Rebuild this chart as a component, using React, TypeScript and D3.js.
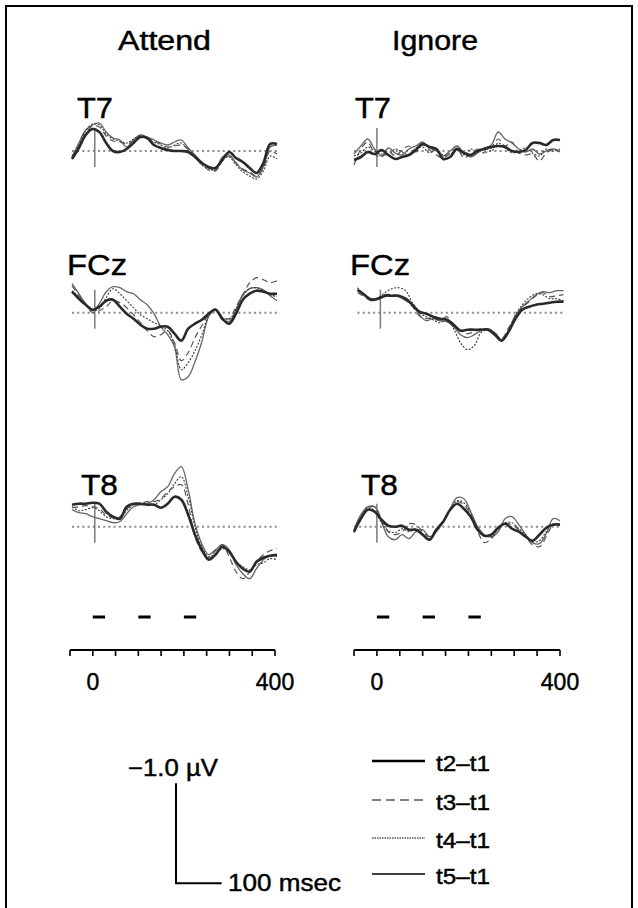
import React from "react";
import * as d3 from "d3";

// sample times (ms) shared by every trace
const times = [-50, -35, -20, -5, 10, 25, 40, 55, 70, 85, 100, 115, 130, 145, 160, 175, 190, 205, 220, 235, 250, 265, 280, 295, 310, 325, 340, 355, 370, 385, 400];

const seriesNames = ["t2\u2013t1", "t3\u2013t1", "t4\u2013t1", "t5\u2013t1"];
const conditions = ["Attend", "Ignore"];
const electrodes = ["T7", "FCz", "T8"];
const stimulusOnsets = [0, 100, 200];
const stimulusLength = 27;
const axisTicks = [-50, 0, 50, 100, 150, 200, 250, 300, 350, 400];
const axisLabels = [0, 400];

// Attend, values in µV (negative plotted up)
const attendT7_t2 = [0.08, -0.03, -0.16, -0.22, -0.19, -0.08, 0.0, 0.01, -0.02, -0.08, -0.14, -0.13, -0.06, -0.03, -0.01, 0, 0, 0.01, 0.06, 0.12, 0.16, 0.17, 0.09, 0.01, 0.07, 0.11, 0.17, 0.22, 0.12, -0.07, -0.07];
const attendT7_t3 = [0.05, -0.05, -0.18, -0.25, -0.24, -0.15, -0.1, -0.09, -0.07, -0.1, -0.15, -0.13, -0.1, -0.07, -0.04, -0.05, -0.06, -0.02, 0.05, 0.13, 0.19, 0.2, 0.1, 0.05, 0.12, 0.18, 0.21, 0.25, 0.17, 0.0, 0.03];
const attendT7_t4 = [0.07, -0.06, -0.2, -0.27, -0.26, -0.17, -0.12, -0.1, -0.08, -0.12, -0.15, -0.12, -0.09, -0.06, -0.03, -0.06, -0.08, -0.01, 0.06, 0.14, 0.18, 0.19, 0.08, 0.06, 0.14, 0.21, 0.25, 0.28, 0.2, 0.05, 0.08];
const attendT7_t5 = [0.06, -0.08, -0.21, -0.26, -0.28, -0.19, -0.13, -0.11, -0.04, -0.11, -0.16, -0.14, -0.11, -0.08, -0.06, -0.09, -0.11, -0.03, 0.04, 0.11, 0.17, 0.19, 0.06, 0.04, 0.12, 0.19, 0.22, 0.26, 0.16, -0.04, -0.06];

const attendFCz_t2 = [-0.21, -0.14, -0.08, -0.03, -0.06, -0.12, -0.13, -0.06, 0.01, 0.06, 0.12, 0.16, 0.16, 0.14, 0.14, 0.21, 0.28, 0.16, 0.11, 0.07, 0.01, -0.03, 0.06, 0.11, 0.01, -0.13, -0.19, -0.22, -0.21, -0.19, -0.19];
const attendFCz_t3 = [-0.27, -0.17, -0.08, 0.0, -0.02, -0.06, -0.12, -0.1, -0.05, 0.02, 0.1, 0.18, 0.24, 0.22, 0.18, 0.3, 0.48, 0.4, 0.25, 0.13, 0.02, -0.04, 0.04, 0.06, -0.06, -0.18, -0.3, -0.35, -0.33, -0.3, -0.32];
const attendFCz_t4 = [-0.22, -0.16, -0.08, -0.02, -0.04, -0.15, -0.24, -0.19, -0.12, -0.05, 0.02, 0.06, 0.1, 0.13, 0.18, 0.32, 0.57, 0.5, 0.38, 0.22, 0.03, -0.04, 0.05, 0.07, -0.04, -0.17, -0.24, -0.25, -0.22, -0.18, -0.16];
const attendFCz_t5 = [-0.29, -0.19, -0.09, -0.02, -0.09, -0.21, -0.26, -0.25, -0.21, -0.19, -0.13, -0.08, 0.01, 0.14, 0.22, 0.34, 0.67, 0.64, 0.49, 0.29, 0.04, -0.03, 0.07, 0.09, -0.03, -0.18, -0.24, -0.25, -0.23, -0.17, -0.12];

const attendT8_t2 = [-0.22, -0.23, -0.23, -0.24, -0.23, -0.15, -0.1, -0.08, -0.2, -0.23, -0.23, -0.22, -0.22, -0.19, -0.23, -0.3, -0.27, -0.12, 0.08, 0.23, 0.33, 0.28, 0.2, 0.25, 0.35, 0.42, 0.45, 0.35, 0.31, 0.29, 0.28];
const attendT8_t3 = [-0.19, -0.2, -0.21, -0.2, -0.18, -0.12, -0.09, -0.1, -0.18, -0.22, -0.23, -0.25, -0.25, -0.28, -0.35, -0.4, -0.42, -0.22, 0.1, 0.25, 0.31, 0.24, 0.18, 0.3, 0.45, 0.52, 0.45, 0.35, 0.28, 0.24, 0.22];
const attendT8_t4 = [-0.2, -0.16, -0.17, -0.19, -0.16, -0.1, -0.08, -0.09, -0.16, -0.22, -0.23, -0.22, -0.22, -0.27, -0.33, -0.43, -0.5, -0.3, 0.0, 0.2, 0.3, 0.27, 0.22, 0.24, 0.35, 0.4, 0.43, 0.38, 0.36, 0.32, 0.33];
const attendT8_t5 = [-0.17, -0.14, -0.13, -0.1, -0.08, -0.06, -0.04, -0.05, -0.13, -0.2, -0.22, -0.23, -0.27, -0.35, -0.4, -0.53, -0.6, -0.37, -0.03, 0.17, 0.28, 0.23, 0.18, 0.23, 0.38, 0.47, 0.52, 0.42, 0.33, 0.29, 0.3];

// Ignore
const ignoreT7_t2 = [0.09, 0.06, 0.01, 0.03, -0.01, 0.04, 0.08, 0.06, 0.04, -0.01, -0.07, -0.04, -0.02, 0.08, 0.06, -0.02, 0.02, 0.04, 0.0, -0.02, -0.04, -0.05, -0.04, 0.0, 0.01, -0.01, -0.08, -0.08, -0.06, -0.11, -0.11];
const ignoreT7_t3 = [0.14, -0.02, -0.09, 0.03, 0.06, 0.0, 0.05, -0.01, -0.05, 0.01, -0.06, -0.01, 0.04, 0.07, 0.02, -0.03, 0.07, 0.03, -0.02, 0.02, -0.03, -0.12, -0.05, -0.09, 0.02, 0.04, 0.03, 0.1, 0.02, -0.01, 0.01];
const ignoreT7_t4 = [0.05, 0.02, -0.04, 0.0, 0.03, 0.04, -0.02, 0.01, 0.04, -0.03, -0.04, 0.02, -0.02, 0.04, 0.03, -0.01, 0.04, -0.02, 0.01, -0.03, 0.0, -0.08, -0.03, 0.02, 0.0, -0.03, 0.02, 0.05, -0.02, 0.0, -0.02];
const ignoreT7_t5 = [0.03, -0.05, -0.12, -0.02, 0.05, -0.03, 0.02, 0.04, -0.02, -0.05, -0.09, -0.03, 0.0, 0.05, 0.0, -0.05, 0.02, 0.06, 0.02, -0.03, -0.06, -0.19, -0.12, -0.08, -0.02, 0.01, -0.02, 0.03, 0.0, -0.02, 0.0];

const ignoreFCz_t2 = [-0.23, -0.18, -0.13, -0.14, -0.17, -0.17, -0.17, -0.14, -0.08, -0.01, 0.01, 0.04, 0.06, 0.07, 0.12, 0.18, 0.17, 0.17, 0.17, 0.17, 0.22, 0.28, 0.19, 0.06, -0.03, -0.06, -0.08, -0.09, -0.1, -0.11, -0.11];
const ignoreFCz_t3 = [-0.2, -0.16, -0.12, -0.15, -0.18, -0.18, -0.16, -0.13, -0.06, 0.03, 0.06, 0.05, 0.08, 0.04, 0.12, 0.18, 0.21, 0.19, 0.16, 0.17, 0.22, 0.26, 0.15, 0.04, -0.05, -0.11, -0.17, -0.2, -0.16, -0.17, -0.18];
const ignoreFCz_t4 = [-0.25, -0.17, -0.12, -0.15, -0.2, -0.24, -0.25, -0.22, -0.1, 0.0, 0.04, 0.07, 0.1, 0.06, 0.16, 0.3, 0.37, 0.33, 0.2, 0.17, 0.2, 0.27, 0.17, 0.02, -0.08, -0.15, -0.19, -0.18, -0.14, -0.14, -0.12];
const ignoreFCz_t5 = [-0.22, -0.18, -0.14, -0.14, -0.16, -0.17, -0.16, -0.12, -0.08, 0.02, 0.08, 0.06, 0.08, 0.09, 0.14, 0.22, 0.25, 0.22, 0.18, 0.16, 0.2, 0.27, 0.18, 0.03, -0.06, -0.12, -0.18, -0.21, -0.2, -0.22, -0.22];

const ignoreT8_t2 = [0.05, -0.08, -0.17, -0.15, -0.07, -0.01, 0.0, -0.01, 0.03, 0.03, 0.08, 0.13, 0.03, -0.05, -0.17, -0.23, -0.18, -0.1, 0.03, 0.09, 0.08, 0.01, -0.03, 0.02, 0.05, 0.1, 0.14, 0.08, 0.01, -0.02, -0.02];
const ignoreT8_t3 = [0.06, -0.08, -0.18, -0.2, -0.08, 0.05, 0.08, 0.05, -0.03, -0.02, 0.05, 0.1, 0.02, -0.06, -0.16, -0.25, -0.22, -0.12, 0.05, 0.16, 0.12, 0.03, -0.03, -0.02, 0.03, 0.1, 0.18, 0.2, 0.1, -0.02, -0.03];
const ignoreT8_t4 = [0.04, -0.1, -0.19, -0.16, -0.04, 0.04, 0.06, 0.02, 0.05, 0.02, 0.07, 0.12, 0.03, -0.06, -0.17, -0.26, -0.24, -0.14, 0.01, 0.09, 0.1, 0.02, -0.04, -0.04, 0.02, 0.08, 0.15, 0.14, 0.05, -0.03, -0.02];
const ignoreT8_t5 = [0.03, -0.12, -0.2, -0.2, -0.05, 0.1, 0.13, 0.08, 0.12, 0.05, 0.03, 0.1, 0.05, -0.05, -0.18, -0.29, -0.28, -0.15, 0.0, 0.08, 0.1, 0.05, -0.08, -0.1, -0.02, 0.08, 0.16, 0.17, 0.07, -0.08, -0.06];

const traces = {
  Attend: {
    T7: [attendT7_t2, attendT7_t3, attendT7_t4, attendT7_t5],
    FCz: [attendFCz_t2, attendFCz_t3, attendFCz_t4, attendFCz_t5],
    T8: [attendT8_t2, attendT8_t3, attendT8_t4, attendT8_t5],
  },
  Ignore: {
    T7: [ignoreT7_t2, ignoreT7_t3, ignoreT7_t4, ignoreT7_t5],
    FCz: [ignoreFCz_t2, ignoreFCz_t3, ignoreFCz_t4, ignoreFCz_t5],
    T8: [ignoreT8_t2, ignoreT8_t3, ignoreT8_t4, ignoreT8_t5],
  },
};

const FONT = "'Liberation Sans', Arial, Helvetica, sans-serif";
const PX_PER_UV = 100;
// the scanned lettering is a bit heavier than plain Arial
const textWeight = { stroke: "#000", strokeWidth: 0.45 };

// index 0 = t2-t1 (thick), drawn last so it sits on top
const styles = [
  { stroke: "#2a2a2a", width: 2.6, dash: undefined },
  { stroke: "#555", width: 1.2, dash: "6,4" },
  { stroke: "#3a3a3a", width: 1.1, dash: "2,1.5" },
  { stroke: "#666", width: 1.3, dash: undefined },
];

const columns = [
  { name: "Attend", range: [70, 275], titleX: 118, titleW: 93, labelX: [77, 67, 81], dx: [2, 2, 2] },
  { name: "Ignore", range: [354, 560], titleX: 392, titleW: 86, labelX: [355, 350, 361], dx: [0, 3.5, 0] },
];
const rows = [
  { base: 151, labelY: 118, labelW: 36 },
  { base: 312.7, labelY: 275, labelW: 60 },
  { base: 526.7, labelY: 495, labelW: 37 },
];

const axisY = 650;
const stimY = 617;

const App = () => {
  const panels = [];
  columns.forEach((col) => {
    const x = d3.scaleLinear().domain([-50, 400]).range(col.range);
    electrodes.forEach((el, ri) => {
      const row = rows[ri];
      const dx = col.dx[ri];
      const y = d3.scaleLinear().domain([-1, 0]).range([row.base - PX_PER_UV, row.base]);
      const line = d3
        .line<number>()
        .x((_, i) => x(times[i]) + dx)
        .y((v) => y(v))
        .curve(d3.curveCatmullRom.alpha(0.5));
      const series = traces[col.name][el];
      panels.push(
        <g key={col.name + el}>
          <line
            x1={x(-50) + dx}
            x2={x(400) + dx}
            y1={y(0)}
            y2={y(0)}
            stroke="#8a8a8a"
            strokeWidth={2}
            strokeDasharray="2,3.2"
          />
          <line x1={x(0) + dx} x2={x(0) + dx} y1={y(-0.23)} y2={y(0.16)} stroke="#7a7a7a" strokeWidth={1.5} />
          {[3, 2, 1, 0].map((si) => (
            <path
              key={si}
              d={line(series[si])}
              fill="none"
              stroke={styles[si].stroke}
              strokeWidth={styles[si].width}
              strokeDasharray={styles[si].dash}
              strokeLinejoin="round"
            />
          ))}
          <text
            x={col.labelX[ri]}
            y={row.labelY}
            fontSize={30}
            textLength={row.labelW}
            lengthAdjust="spacingAndGlyphs"
            fontFamily={FONT}
            {...textWeight}
          >
            {el}
          </text>
        </g>
      );
    });

    panels.push(
      <g key={col.name + "axis"}>
        {stimulusOnsets.map((s) => (
          <line key={s} x1={x(s)} x2={x(s + stimulusLength)} y1={stimY} y2={stimY} stroke="#000" strokeWidth={3} />
        ))}
        <line x1={x(-50)} x2={x(400)} y1={axisY} y2={axisY} stroke="#000" strokeWidth={2} />
        {axisTicks.map((t) => (
          <line key={t} x1={x(t)} x2={x(t)} y1={axisY} y2={axisY + 6} stroke="#000" strokeWidth={1.6} />
        ))}
        {axisLabels.map((t) => (
          <text key={t} x={x(t)} y={690} fontSize={23} textAnchor="middle" fontFamily={FONT} {...textWeight}>
            {t}
          </text>
        ))}
        <text
          x={col.titleX}
          y={50}
          fontSize={27}
          textLength={col.titleW}
          lengthAdjust="spacingAndGlyphs"
          fontFamily={FONT}
          {...textWeight}
        >
          {col.name}
        </text>
      </g>
    );
  });

  // calibration bar: 1 µV up, 100 ms right
  const calX = d3.scaleLinear().domain([0, 100]).range([176, 176 + 45.6]);
  const calY = d3.scaleLinear().domain([-1, 0]).range([883.3 - PX_PER_UV, 883.3]);

  const legendY = [761, 800, 838, 874];

  return (
    <svg width={638} height={908} style={{ position: "absolute", left: 0, top: 0, background: "#fff" }}>
      <rect x={0} y={0} width={638} height={908} fill="#fff" />
      <path d="M6,910 L6,6 L632,6 L632,910" fill="none" stroke="#000" strokeWidth={2} />
      {panels}
      <g>
        <path
          d={`M${calX(0)},${calY(-1)} L${calX(0)},${calY(0)} L${calX(100)},${calY(0)}`}
          fill="none"
          stroke="#000"
          strokeWidth={2}
        />
        <text x={128} y={776} fontSize={23} textLength={90} lengthAdjust="spacingAndGlyphs" fontFamily={FONT} {...textWeight}>
          {"\u22121.0 \u00b5V"}
        </text>
        <text x={228} y={891} fontSize={24} textLength={113} lengthAdjust="spacingAndGlyphs" fontFamily={FONT} {...textWeight}>
          100 msec
        </text>
      </g>
      <g>
        {seriesNames.map((n, i) => (
          <g key={n}>
            <line
              x1={372}
              x2={425}
              y1={legendY[i]}
              y2={legendY[i]}
              stroke="#000"
              strokeWidth={i === 0 ? 2.4 : i === 3 ? 1.5 : 1.1}
              strokeDasharray={i === 1 ? "9,5" : i === 2 ? "1.5,1" : undefined}
            />
            <text
              x={436}
              y={legendY[i] + 10}
              fontSize={22}
              textLength={54}
              lengthAdjust="spacingAndGlyphs"
              fontFamily={FONT}
              {...textWeight}
            >
              {n}
            </text>
          </g>
        ))}
      </g>
    </svg>
  );
};

export default App;
